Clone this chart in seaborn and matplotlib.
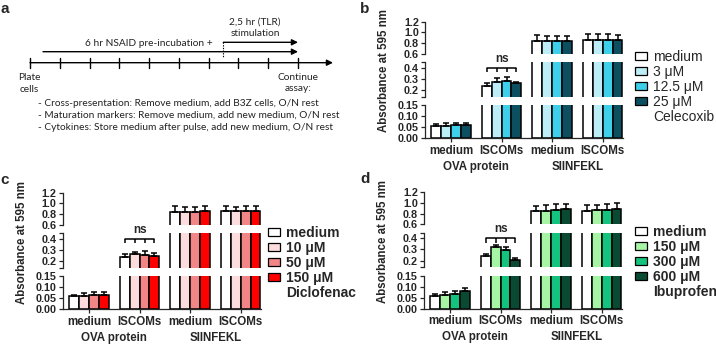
import matplotlib
matplotlib.use("Agg")
import matplotlib.pyplot as plt
import seaborn as sns
import pandas as pd
from matplotlib.patches import Patch

# ---- data ----
conditions = ["OVA medium", "OVA ISCOMs", "SIINFEKL medium", "SIINFEKL ISCOMs"]
tick_labels = ["medium", "ISCOMs", "medium", "ISCOMs"]
antigens = ["OVA protein", "SIINFEKL"]

# rows = condition, columns = dose
cele_doses = ["medium", "3 μM", "12.5 μM", "25 μM"]
cele_mean = [[0.057, 0.057, 0.060, 0.060],
             [0.240, 0.275, 0.278, 0.260],
             [0.840, 0.830, 0.830, 0.840],
             [0.850, 0.850, 0.850, 0.850]]
cele_sd = [[0.009, 0.010, 0.009, 0.010],
           [0.020, 0.030, 0.038, 0.015],
           [0.115, 0.105, 0.100, 0.100],
           [0.115, 0.110, 0.110, 0.100]]

diclo_doses = ["medium", "10 μM", "50 μM", "150 μM"]
diclo_mean = [[0.058, 0.062, 0.064, 0.066],
              [0.240, 0.260, 0.252, 0.246],
              [0.840, 0.840, 0.840, 0.860],
              [0.860, 0.850, 0.860, 0.860]]
diclo_sd = [[0.007, 0.010, 0.012, 0.014],
            [0.020, 0.025, 0.040, 0.028],
            [0.110, 0.100, 0.100, 0.090],
            [0.100, 0.090, 0.100, 0.100]]

ibu_doses = ["medium", "150 μM", "300 μM", "600 μM"]
ibu_mean = [[0.058, 0.063, 0.068, 0.078],
            [0.240, 0.325, 0.295, 0.205],
            [0.840, 0.850, 0.870, 0.880],
            [0.855, 0.860, 0.870, 0.880]]
ibu_sd = [[0.008, 0.012, 0.013, 0.017],
          [0.020, 0.018, 0.030, 0.020],
          [0.110, 0.110, 0.110, 0.100],
          [0.105, 0.100, 0.105, 0.110]]

cele_colors = ["#ffffff", "#bdeef8", "#3ed0ea", "#0b4f60"]
diclo_colors = ["#ffffff", "#fcdcdc", "#f28585", "#ff0000"]
ibu_colors = ["#ffffff", "#a5f5a5", "#14c47e", "#0b4a32"]

sns.set_style("ticks")
plt.rcParams["font.family"] = ["Liberation Sans", "DejaVu Sans"]
plt.rcParams["axes.linewidth"] = 0.9

W, H = 716, 345
fig = plt.figure(figsize=(W / 100, H / 100), dpi=100)


def px_axes(x0, y0, x1, y1):
    return fig.add_axes([x0 / W, 1 - y1 / H, (x1 - x0) / W, (y1 - y0) / H])


# broken y axis: (ylim, top px, bottom px, ticks, labels) for panel b
segments = [
    ((0.6, 1.2), 21.7, 53.7, [0.6, 0.8, 1.0, 1.2], ["0.6", "0.8", "1.0", "1.2"]),
    ((0.14, 0.45), 62.1, 96.7, [0.14, 0.2, 0.3, 0.4, 0.45], ["", "0.2", "0.3", "0.4", ""]),
    ((0.0, 0.15), 105.0, 138.3, [0.0, 0.05, 0.10, 0.15], ["0.00", "0.05", "0.10", "0.15"]),
]


def draw_panel(dx, dy, doses, means, sds, colors, drug, letter, letter_x, leg_xy, legend_bold):
    rows = []
    for ci, cond in enumerate(conditions):
        for di, dose in enumerate(doses):
            rows.append({"condition": cond, "dose": dose, "value": means[ci][di]})
    df = pd.DataFrame(rows)

    for si, (ylim, top, bot, ticks, labels) in enumerate(segments):
        ax = px_axes(425 + dx, top + dy, 623 + dx, bot + dy)
        sns.barplot(data=df, x="condition", y="value", hue="dose", order=conditions,
                    hue_order=doses, palette=colors, width=0.78, saturation=1,
                    edgecolor="black", linewidth=1.1, errorbar=None, legend=False, ax=ax)
        bar_conts = list(ax.containers)
        for di, cont in enumerate(bar_conts):
            for ci, bar in enumerate(cont):
                x = bar.get_x() + bar.get_width() / 2
                ax.errorbar(x, means[ci][di], yerr=[[0], [sds[ci][di]]], fmt="none",
                            ecolor="black", elinewidth=1.1, capsize=2.4, capthick=1.1)
        ax.set_xlim(-0.514, 3.40)
        ax.set_ylim(*ylim)
        ax.set_yticks(ticks)
        ax.set_yticklabels(labels, fontsize=7.8, fontweight="bold")
        ax.tick_params(axis="y", length=3, width=0.9, pad=1.5)
        ax.set_xlabel("")
        ax.set_ylabel("")
        last = si == len(segments) - 1
        sns.despine(ax=ax, bottom=not last)
        if last:
            ax.set_xticks(range(len(conditions)))
            ax.set_xticklabels(tick_labels, fontsize=8.3, fontweight="bold")
            ax.tick_params(axis="x", length=3, width=0.9, pad=1.5)
            for ai, name in enumerate(antigens):
                ax.annotate(name, xy=(2 * ai + 0.5, 0), xycoords=("data", "axes fraction"),
                            xytext=(0, -20.5), textcoords="offset points", ha="center",
                            va="center", fontsize=8.3, fontweight="bold")
        else:
            ax.tick_params(axis="x", bottom=False, labelbottom=False)
        if si == 1:
            xs = [cont[1].get_x() + cont[1].get_width() / 2 for cont in bar_conts]
            ax.plot([xs[0], xs[-1]], [0.40, 0.40], color="black", lw=1.1)
            ax.vlines(xs, 0.36, 0.40, color="black", lw=1.1)
            ax.text((xs[0] + xs[-1]) / 2, 0.48, "ns", ha="center", va="center",
                    fontsize=8.5, fontweight="bold", clip_on=False)

    fig.text((384 + dx) / W, 1 - (71 + dy) / H, "Absorbance at 595 nm", rotation=90,
             ha="center", va="center", fontsize=8.3, fontweight="bold")
    fig.text(letter_x / W, 1 - (9 + dy) / H, letter, ha="center", va="center",
             fontsize=11, fontweight="bold")

    handles = [Patch(facecolor=c, edgecolor="black", linewidth=0.9) for c in colors]
    handles.append(Patch(facecolor="none", edgecolor="none"))
    fig.legend(handles, doses + [drug], loc="upper left",
               bbox_to_anchor=(leg_xy[0] / W, 1 - (leg_xy[1] - 8) / H),
               frameon=False, borderpad=0, borderaxespad=0, handlelength=0.86,
               handleheight=0.5, handletextpad=0.45, labelspacing=0.06,
               prop={"size": 10, "weight": "bold" if legend_bold else "normal"})


draw_panel(0, 0, cele_doses, cele_mean, cele_sd, cele_colors, "Celecoxib", "b", 365,
           (635, 58.3), False)
draw_panel(-362, 171, diclo_doses, diclo_mean, diclo_sd, diclo_colors, "Diclofenac", "c", 5,
           (268, 234.3), True)
draw_panel(-1, 170.5, ibu_doses, ibu_mean, ibu_sd, ibu_colors, "Ibuprofen", "d", 365,
           (635, 233.3), True)

# ---- panel a: timeline schematic ----
axa = px_axes(0, 0, 360, 170)
axa.set_xlim(0, 360)
axa.set_ylim(170, 0)
axa.axis("off")
fig.text(5 / W, 1 - 9 / H, "a", ha="center", va="center", fontsize=11, fontweight="bold")

tl = dict(color="black", lw=1.0)
arrow = dict(arrowstyle="-|>", color="black", lw=1.0, mutation_scale=9,
             shrinkA=0, shrinkB=0)
axa.annotate("", xy=(333, 62.7), xytext=(30, 62.7), arrowprops=arrow)
for k in range(10):
    x = 30 + k * 29.75
    axa.plot([x, x], [57.5, 68.3], **tl)
axa.annotate("", xy=(298, 51.7), xytext=(43, 51.7), arrowprops=arrow)
axa.annotate("", xy=(298, 42.3), xytext=(223.3, 42.3), arrowprops=arrow)
axa.plot([223.3, 223.3], [42.3, 57.5], color="black", lw=0.8, ls=(0, (1.2, 1.2)))

fa = dict(fontsize=7.3, family="Lato", color="#222222")
axa.text(213, 43.3, "6 hr NSAID pre-incubation +", ha="right", va="center", **fa)
axa.text(255, 21.7, "2,5 hr (TLR)", ha="center", va="center", **fa)
axa.text(255, 33.3, "stimulation", ha="center", va="center", **fa)
axa.text(29, 77.7, "Plate", ha="center", va="center", **fa)
axa.text(29, 89.3, "cells", ha="center", va="center", **fa)
axa.text(298, 77, "Continue", ha="center", va="center", **fa)
axa.text(298, 88.7, "assay:", ha="center", va="center", **fa)
axa.text(38.3, 103.3, "- Cross-presentation: Remove medium, add B3Z cells, O/N rest",
         ha="left", va="center", **fa)
axa.text(38.3, 115.3, "- Maturation markers: Remove medium, add new medium, O/N rest",
         ha="left", va="center", **fa)
axa.text(38.3, 127.3, "- Cytokines: Store medium after pulse, add new medium, O/N rest",
         ha="left", va="center", **fa)

fig.savefig("out.png", dpi=100)
